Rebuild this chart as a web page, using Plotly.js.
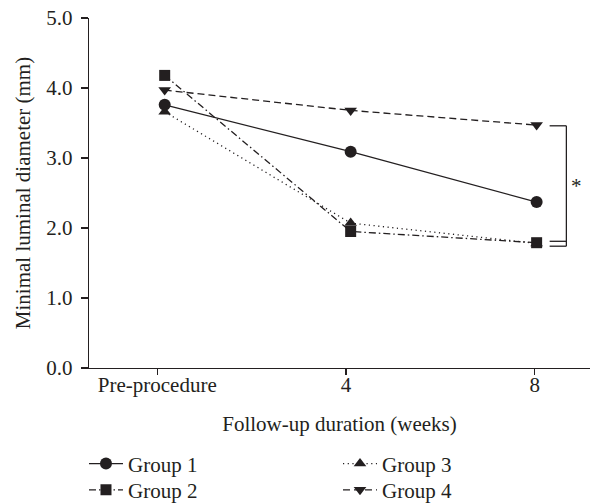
<!DOCTYPE html>
<html>
<head>
<meta charset="utf-8">
<script src="https://cdn.plot.ly/plotly-3.0.1.min.js"></script>
<style>
  html, body { margin: 0; padding: 0; background: #ffffff; }
  #chart { width: 608px; height: 503px; }
</style>
</head>
<body>
<div id="chart"></div>
<script>
// ---- data ----
const timepoints = [0, 1, 2];                       // ordinal position of each follow-up visit
const tickPositions = [-0.04, 0.975, 1.99];
const tickLabels = ["Pre-procedure", "4", "8"];
const group1 = [3.76, 3.09, 2.37];
const group2 = [4.18, 1.95, 1.79];
const group3 = [3.66, 2.07, 1.78];
const group4 = [3.97, 3.68, 3.47];
const seriesNames = ["Group 1", "Group 2", "Group 3", "Group 4"];
// significance bracket (y levels in mm) and star
const bracketTop = 3.46;
const bracketBottoms = [1.81, 1.74];
const bracketX = [2.07, 2.16];
const starPos = [2.215, 2.6];

const INK = "#231f20";
const FONT = "Liberation Serif, Times New Roman, serif";
const FS = 21;

function series(y, name, symbol, size, dash, legend) {
  return {
    x: timepoints, y: y, name: name, type: "scatter", mode: "lines+markers",
    line: { color: INK, width: 1.3, dash: dash },
    marker: { symbol: symbol, size: size, color: INK, line: { width: 0 } },
    legend: legend, hoverinfo: "skip"
  };
}

const traces = [
  series(group4, seriesNames[3], "triangle-down", 11, "7px,4px", "legend4"),
  series(group3, seriesNames[2], "triangle-up", 11, "1.2px,3.5px", "legend3"),
  series(group2, seriesNames[1], "square", 11, "7px,3px,1.5px,3px", "legend2"),
  series(group1, seriesNames[0], "circle", 12, "solid", "legend")
];

const shapes = [
  { type: "line", xref: "x", yref: "y", x0: bracketX[0], x1: bracketX[1], y0: bracketTop, y1: bracketTop, line: { color: INK, width: 1.3 } },
  { type: "line", xref: "x", yref: "y", x0: bracketX[1], x1: bracketX[1], y0: bracketTop, y1: bracketBottoms[1], line: { color: INK, width: 1.3 } }
].concat(bracketBottoms.map(b => ({
  type: "line", xref: "x", yref: "y", x0: bracketX[0], x1: bracketX[1], y0: b, y1: b, line: { color: INK, width: 1.3 }
})));

function legendBox(x, y) {
  return {
    x: x, xanchor: "left", y: y, yanchor: "middle",
    orientation: "v", bgcolor: "rgba(0,0,0,0)", itemwidth: 34,
    font: { family: FONT, size: FS, color: INK }, itemclick: false
  };
}

const layout = {
  width: 608, height: 503,
  margin: { l: 89, r: 18, t: 18, b: 135, autoexpand: false },
  paper_bgcolor: "#ffffff", plot_bgcolor: "#ffffff",
  font: { family: FONT, size: FS, color: INK },
  showlegend: true,
  xaxis: {
    range: [-0.407, 2.287],
    tickvals: tickPositions, ticktext: tickLabels,
    ticks: "outside", ticklen: 6, tickwidth: 1.3, tickcolor: INK,
    ticklabelstandoff: -9,
    showline: true, linecolor: INK, linewidth: 1.3,
    showgrid: false, zeroline: false,
    tickfont: { family: FONT, size: FS, color: INK },
    title: { text: "Follow-up duration (weeks)", font: { family: FONT, size: FS, color: INK }, standoff: 20 },
    automargin: false, fixedrange: true
  },
  yaxis: {
    range: [0, 5],
    tickvals: [0, 1, 2, 3, 4, 5], tickformat: ".1f",
    ticks: "outside", ticklen: 7, tickwidth: 1.3, tickcolor: INK,
    ticklabelstandoff: 4,
    showline: true, linecolor: INK, linewidth: 1.3,
    showgrid: false, zeroline: false,
    tickfont: { family: FONT, size: FS, color: INK },
    title: { text: "Minimal luminal diameter (mm)", font: { family: FONT, size: FS, color: INK }, standoff: 10 },
    automargin: false, fixedrange: true
  },
  legend: legendBox(-0.01, -0.274),
  legend2: legendBox(-0.01, -0.349),
  legend3: legendBox(0.497, -0.274),
  legend4: legendBox(0.497, -0.349),
  shapes: shapes,
  annotations: [{
    x: starPos[0], y: starPos[1], xref: "x", yref: "y", text: "*", showarrow: false,
    font: { family: FONT, size: FS, color: INK }
  }]
};

Plotly.newPlot("chart", traces, layout, { staticPlot: true, displayModeBar: false });
</script>
</body>
</html>
